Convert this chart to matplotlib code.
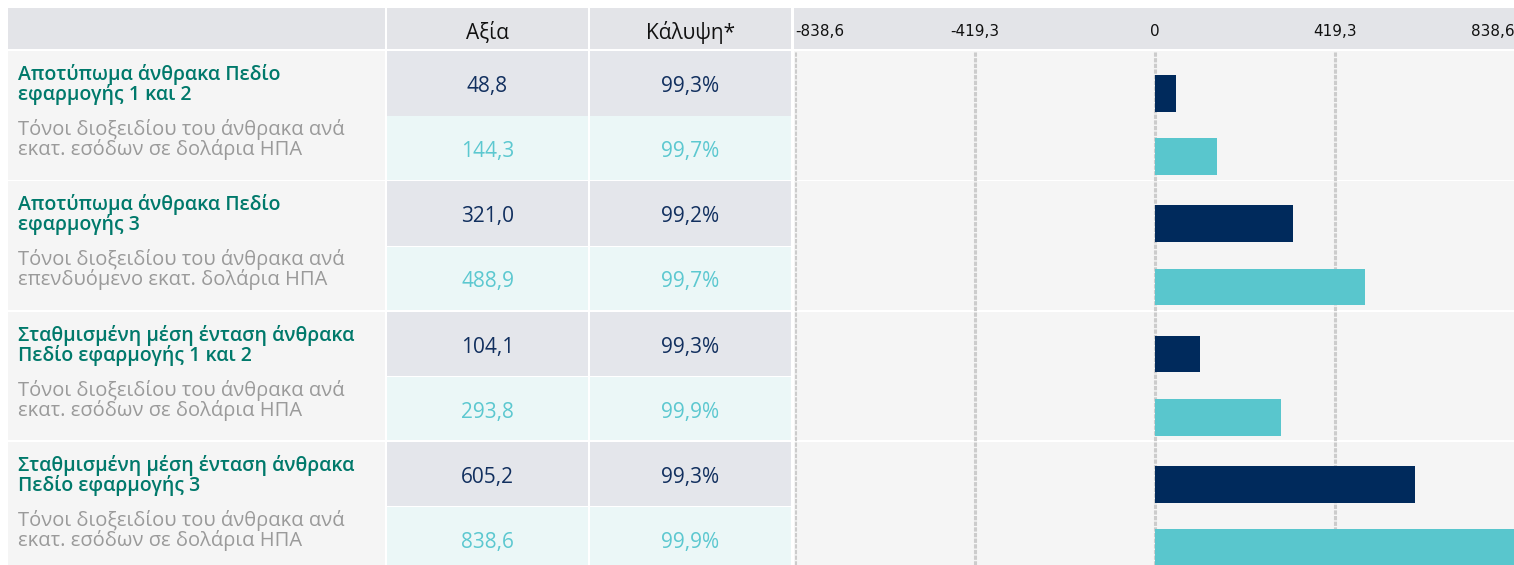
import matplotlib
matplotlib.use("Agg")
import matplotlib.pyplot as plt
from matplotlib.patches import Rectangle

plt.rcParams['font.family'] = ['Open Sans', 'DejaVu Sans']

# ---- data ----
titles = [
    "Αποτύπωμα άνθρακα Πεδίο\nεφαρμογής 1 και 2",
    "Αποτύπωμα άνθρακα Πεδίο\nεφαρμογής 3",
    "Σταθμισμένη μέση ένταση άνθρακα\nΠεδίο εφαρμογής 1 και 2",
    "Σταθμισμένη μέση ένταση άνθρακα\nΠεδίο εφαρμογής 3",
]
subtitles = [
    "Τόνοι διοξειδίου του άνθρακα ανά\nεκατ. εσόδων σε δολάρια ΗΠΑ",
    "Τόνοι διοξειδίου του άνθρακα ανά\nεπενδυόμενο εκατ. δολάρια ΗΠΑ",
    "Τόνοι διοξειδίου του άνθρακα ανά\nεκατ. εσόδων σε δολάρια ΗΠΑ",
    "Τόνοι διοξειδίου του άνθρακα ανά\nεκατ. εσόδων σε δολάρια ΗΠΑ",
]
fund_values = [48.8, 321.0, 104.1, 605.2]
index_values = [144.3, 488.9, 293.8, 838.6]
fund_coverage = [99.3, 99.2, 99.3, 99.3]
index_coverage = [99.7, 99.7, 99.9, 99.9]
headers = ["Αξία", "Κάλυψη*"]

# ---- style ----
W, H = 1514, 565
DARK = "#002a5c"
TEAL = "#59c6cd"
DARK_TXT = "#12305f"
TEAL_TXT = "#5cc8d0"
TITLE_C = "#00796b"
SUB_C = "#9a9a9a"
HEAD_BG = "#e3e4e8"
ROW_BG = "#f5f5f5"
DARK_CELL = "#e4e6eb"
TEAL_CELL = "#ebf7f7"

cols = [(8, 385), (387, 588), (590, 791), (794, 1514)]
head_top, head_bot = 8, 49
first_top = 51
step = 130.33


def fmt(v):
    return f"{v:.1f}".replace(".", ",")


fig = plt.figure(figsize=(W / 100, H / 100), dpi=100)

# background table drawn in pixel coordinates
bg = fig.add_axes([0, 0, 1, 1])
bg.set_xlim(0, W)
bg.set_ylim(H, 0)
bg.axis("off")

for x0, x1 in cols:
    bg.add_patch(Rectangle((x0, head_top), x1 - x0, head_bot - head_top, color=HEAD_BG, lw=0))
for j, h in enumerate(headers):
    x0, x1 = cols[j + 1]
    bg.text((x0 + x1) / 2, head_top + 31, h, ha="center", va="baseline", fontsize=15, color="#111111")

for g in range(len(titles)):
    top = first_top + step * g
    bg.add_patch(Rectangle((cols[0][0], top), cols[0][1] - cols[0][0], 128.5, color=ROW_BG, lw=0))
    bg.add_patch(Rectangle((cols[3][0], top), cols[3][1] - cols[3][0], 128.5, color=ROW_BG, lw=0))
    for c in (1, 2):
        x0, x1 = cols[c]
        bg.add_patch(Rectangle((x0, top), x1 - x0, 64.5, color=DARK_CELL, lw=0))
        bg.add_patch(Rectangle((x0, top + 65.3), x1 - x0, 63.2, color=TEAL_CELL, lw=0))
    for k, line in enumerate(titles[g].split("\n")):
        bg.text(18, top + 29 + 20 * k, line, ha="left", va="baseline", fontsize=14,
                fontweight="semibold", color=TITLE_C)
    for k, line in enumerate(subtitles[g].split("\n")):
        bg.text(18, top + 84 + 20 * k, line, ha="left", va="baseline", fontsize=14.5, color=SUB_C)
    bg.text(sum(cols[1]) / 2, top + 41, fmt(fund_values[g]), ha="center", va="baseline",
            fontsize=15, color=DARK_TXT)
    bg.text(sum(cols[2]) / 2, top + 41, fmt(fund_coverage[g]) + "%", ha="center", va="baseline",
            fontsize=15, color=DARK_TXT)
    bg.text(sum(cols[1]) / 2, top + 106, fmt(index_values[g]), ha="center", va="baseline",
            fontsize=15, color=TEAL_TXT)
    bg.text(sum(cols[2]) / 2, top + 106, fmt(index_coverage[g]) + "%", ha="center", va="baseline",
            fontsize=15, color=TEAL_TXT)

# bar chart, y axis in pixel rows so it lines up with the table
vmax = max(index_values + fund_values)
ax = fig.add_axes([795 / W, 0, 720 / W, (H - first_top) / H])
ax.set_facecolor("none")
ax.set_xlim(-vmax, vmax)
ax.set_ylim(H, first_top)
tops = [first_top + step * g for g in range(len(titles))]
ticks = [-vmax, -vmax / 2, 0, vmax / 2, vmax]
for t in ticks[:-1]:
    ax.axvline(t, color="#cccccc", lw=2.2, ls=(0, (1.4, 0.45)), zorder=1)
ax.barh([t + 42.3 for t in tops], fund_values, height=36.7, color=DARK, zorder=2)
ax.barh([t + 105.7 for t in tops], index_values, height=36.7, color=TEAL, zorder=2)

ax.xaxis.tick_top()
ax.set_xticks(ticks)
ax.set_xticklabels(["0" if t == 0 else fmt(t) for t in ticks],
                   fontfamily=["Liberation Sans Narrow", "DejaVu Sans"], fontsize=11)
ax.tick_params(axis="x", length=0, pad=9, colors="#111111")
labels = ax.get_xticklabels()
labels[0].set_ha("left")
labels[-1].set_ha("right")
ax.set_yticks([])
for s in ax.spines.values():
    s.set_visible(False)

fig.savefig("out.png", dpi=100)
